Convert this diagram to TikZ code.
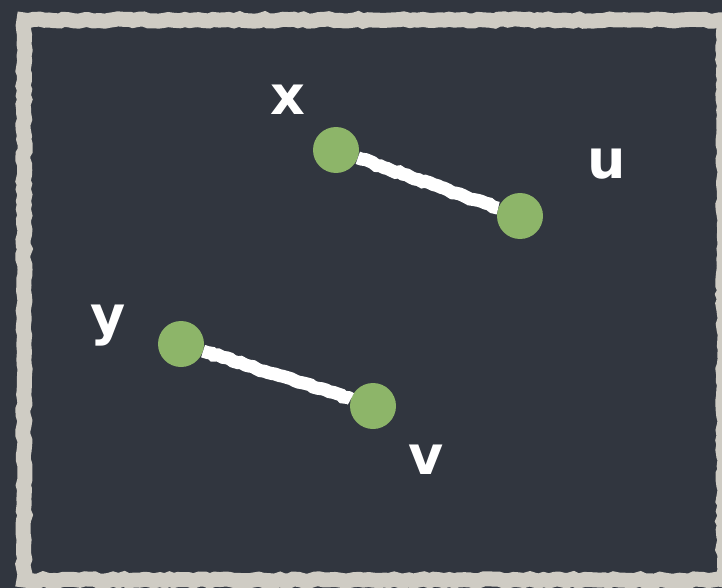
\documentclass[tikz,border=0pt]{standalone}
\usepackage{fontspec}
\setmainfont{DejaVu Sans}
\usetikzlibrary{decorations.pathmorphing}
\definecolor{board}{HTML}{31363F}
\definecolor{chalkframe}{HTML}{CFCCC4}
\definecolor{nodegreen}{HTML}{8DB569}
\tikzset{
  vertex/.style={circle, fill=nodegreen, minimum size=46pt, inner sep=0pt},
  chalkedge/.style={white, line width=13pt, decorate, decoration={random steps, segment length=4pt, amplitude=1pt}},
  lbl/.style={text=white, font=\bfseries\fontsize{54}{54}\selectfont, inner sep=0pt},
  framestyle/.style={draw=chalkframe, line width=15pt, decorate, decoration={random steps, segment length=5pt, amplitude=1.2pt}}
}
\begin{document}
\begin{tikzpicture}[x=1pt,y=-1pt]
  \fill[board] (0,0) rectangle (722,588);
  \useasboundingbox (0,0) rectangle (722,588);
  \path[framestyle] (24,20) -- (724,20) -- (724,580) -- (24,580) -- cycle;
  \node[vertex] (x) at (336,150) {};
  \node[vertex] (u) at (520,216) {};
  \node[vertex] (y) at (181,344) {};
  \node[vertex] (v) at (373,406) {};
  \draw[chalkedge] (x) -- (u);
  \draw[chalkedge] (y) -- (v);
  \node[lbl] (lx) at (288,100) {x};
  \node[lbl] (lu) at (607,164) {u};
  \node[lbl] (ly) at (108,326) {y};
  \node[lbl] (lv) at (426,460) {v};
\end{tikzpicture}
\end{document}
